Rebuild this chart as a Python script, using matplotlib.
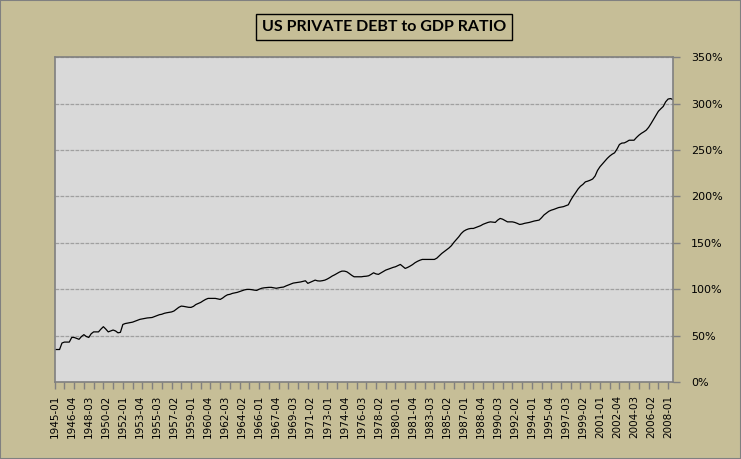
import matplotlib
matplotlib.use("Agg")
import matplotlib.pyplot as plt
from matplotlib.patches import Rectangle
from matplotlib.ticker import FixedLocator, MultipleLocator, FuncFormatter

# quarterly private debt / GDP ratio (%), 1945-Q1 .. 2008-Q3
ratio_pct = [
    35, 35, 35, 42,            # 1945
    43, 43, 43, 48,            # 1946
    48, 47, 46, 49,            # 1947
    51, 49, 48, 52,            # 1948
    54, 54, 54, 57,            # 1949
    59.6, 57, 54, 55,          # 1950
    56, 55, 53, 53.5,          # 1951
    62, 63, 63.5, 64,          # 1952
    64.5, 65.5, 66.5, 67.5,    # 1953
    68, 68.5, 69, 69.3,        # 1954
    69.5, 70.5, 71.5, 72.5,    # 1955
    73, 74, 74.6, 75,          # 1956
    75.5, 76.5, 78.5, 80.5,    # 1957
    81.8, 81.5, 81, 80.5,      # 1958
    80.4, 81.5, 83.5, 84.7,    # 1959
    85.8, 87.5, 89, 90.1,      # 1960
    90.1, 90.1, 90.1, 89.5,    # 1961
    89, 90.5, 92.5, 94,        # 1962
    94.5, 95.5, 96, 96.6,      # 1963
    97.5, 98.5, 99.3, 99.8,    # 1964
    99.8, 99.5, 99, 98.7,      # 1965
    100, 101, 101.5, 101.8,    # 1966
    102, 102, 101.5, 101,      # 1967
    101.5, 102, 102.3, 103.5,  # 1968
    104.5, 105.5, 106.6, 107,  # 1969
    107.5, 107.8, 108.5, 109.1,  # 1970
    106.3, 107.5, 108.8, 109.8,  # 1971
    109, 108.8, 109.2, 109.8,  # 1972
    111, 112.5, 114.2, 115.5,  # 1973
    117, 118.5, 119.5, 119.5,  # 1974
    118.8, 117, 115, 113.4,    # 1975
    113.4, 113.4, 113.4, 113.8,  # 1976
    114, 114.5, 116, 117.7,    # 1977
    116.5, 116, 117.5, 119,    # 1978
    120.6, 121.5, 122.5, 123.5,  # 1979
    124.2, 125.5, 126.7, 124.5,  # 1980
    122.4, 123.5, 124.9, 126.5,  # 1981
    128.5, 130, 131.2, 132.1,  # 1982
    132.1, 132.1, 132.1, 132.1,  # 1983
    132.1, 133.5, 136, 138.5,  # 1984
    140.5, 142.5, 144.5, 147,  # 1985
    150.5, 153.5, 156.5, 160,  # 1986
    162.5, 164, 165, 165.5,    # 1987
    165.5, 166.5, 167.5, 168.5,  # 1988
    170, 171, 172, 172.6,      # 1989
    172.3, 172, 174.5, 176.3,  # 1990
    175.5, 174, 172.6, 172.6,  # 1991
    172.6, 172, 171, 169.8,    # 1992
    170.2, 171, 171.5, 172,    # 1993
    172.8, 173.5, 174, 174.5,  # 1994
    177, 180, 182, 184,        # 1995
    185.2, 186, 187, 188,      # 1996
    188.5, 189, 190, 191,      # 1997
    196, 200.3, 204, 208,      # 1998
    211, 213, 215.7, 216.5,    # 1999
    217.5, 218.8, 222, 228,    # 2000
    232, 235, 238, 241,        # 2001
    243.5, 245.5, 247, 251,    # 2002
    256, 257.5, 257.7, 259,    # 2003
    260.6, 260.6, 260.6, 263.5,  # 2004
    266, 268, 269.6, 271.4,    # 2005
    274.5, 278.6, 283, 287.5,  # 2006
    291.8, 294.5, 297, 302,    # 2007
    305, 305.5, 304.4,         # 2008
]

tick_labels = [
    "1945-01", "1946-04", "1948-03", "1950-02", "1952-01", "1953-04",
    "1955-03", "1957-02", "1959-01", "1960-04", "1962-03", "1964-02",
    "1966-01", "1967-04", "1969-03", "1971-02", "1973-01", "1974-04",
    "1976-03", "1978-02", "1980-01", "1981-04", "1983-03", "1985-02",
    "1987-01", "1988-04", "1990-03", "1992-02", "1994-01", "1995-04",
    "1997-03", "1999-02", "2001-01", "2002-04", "2004-03", "2006-02",
    "2008-01",
]
label_step = 7   # quarters between labels
mark_step = 4    # quarters between tick marks

bg = "#C6BE97"
plot_bg = "#D9D9D9"
edge = "#808080"

fig = plt.figure(figsize=(7.41, 4.59), dpi=100, facecolor=bg)
ax = fig.add_axes([0.0738, 0.1678, 0.9082 - 0.0738, 0.8752 - 0.1678])
ax.set_facecolor(plot_bg)

x = list(range(len(ratio_pct)))
ax.plot(x, ratio_pct, color="black", linewidth=0.9)

ax.set_xlim(0, len(ratio_pct) - 1)
ax.set_ylim(0, 350)

# y axis on the right, percent labels
ax.yaxis.tick_right()
ax.yaxis.set_major_locator(MultipleLocator(50))
ax.yaxis.set_major_formatter(FuncFormatter(lambda v, p: f"{int(v)}%"))
ax.tick_params(axis="y", direction="out", length=5, width=1, color=edge,
               labelsize=8, pad=8)
ax.grid(axis="y", color="#A0A0A0", linestyle=(0, (3, 1)), linewidth=0.9)

# x axis: labels every 7 quarters, marks every 4 quarters
label_pos = [i * label_step for i in range(len(tick_labels))]
ax.xaxis.remove_overlapping_locs = False
ax.xaxis.set_major_locator(FixedLocator(label_pos))
ax.set_xticklabels(tick_labels, rotation=90, fontsize=7.5)
ax.xaxis.set_minor_locator(MultipleLocator(mark_step))
ax.tick_params(axis="x", which="major", length=0, pad=9)
ax.tick_params(axis="x", which="minor", direction="out", length=5,
               width=1, color=edge)

for s in ax.spines.values():
    s.set_color(edge)
    s.set_linewidth(1.2)

# title in a boxed frame
fig.text(0.518, 0.941, "US PRIVATE DEBT to GDP RATIO",
         ha="center", va="center", fontsize=11.5, fontweight="bold",
         family=["Lato", "DejaVu Sans"],
         bbox=dict(boxstyle="square,pad=0.38", facecolor=bg,
                   edgecolor="black", linewidth=1.0))

# outer frame
fig.patches.append(Rectangle((0, 0), 1, 1, transform=fig.transFigure,
                             fill=False, edgecolor=edge, linewidth=1.5))

fig.savefig("out.png", dpi=100, facecolor=bg)
